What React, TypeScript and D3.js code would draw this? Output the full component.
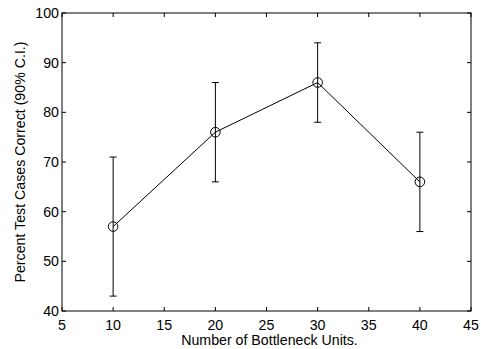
import React from "react";
import * as d3 from "d3";

const units = [10, 20, 30, 40];
const correct = [57, 76, 86, 66];
const lower = [43, 66, 78, 56];
const upper = [71, 86, 94, 76];
const xTicks = [5, 10, 15, 20, 25, 30, 35, 40, 45];
const yTicks = [40, 50, 60, 70, 80, 90, 100];

const App = () => {
  const width = 481;
  const height = 349;
  const left = 62;
  const right = 471;
  const top = 13;
  const bottom = 311;

  const x = d3.scaleLinear().domain([5, 45]).range([left, right]);
  const y = d3.scaleLinear().domain([40, 100]).range([bottom, top]);

  const line = d3
    .line<number>()
    .x((d, i) => x(units[i]))
    .y((d) => y(d));

  const font = "Liberation Sans, Arial, Helvetica, sans-serif";
  const tick = 4;

  return (
    <svg
      width={width}
      height={height}
      style={{ position: "absolute", left: 0, top: 0, background: "white" }}
      fontFamily={font}
      fontSize={14.2}
    >
      <rect x={0} y={0} width={width} height={height} fill="white" />
      {xTicks.map((t) => (
        <g key={"x" + t}>
          <line x1={x(t)} x2={x(t)} y1={bottom} y2={bottom - tick} stroke="black" />
          <line x1={x(t)} x2={x(t)} y1={top} y2={top + tick} stroke="black" />
          <text x={x(t)} y={bottom + 19} textAnchor="middle">
            {t}
          </text>
        </g>
      ))}
      {yTicks.map((t) => (
        <g key={"y" + t}>
          <line x1={left} x2={left + tick} y1={y(t)} y2={y(t)} stroke="black" />
          <line x1={right} x2={right - tick} y1={y(t)} y2={y(t)} stroke="black" />
          <text x={left - 3} y={y(t) + 5} textAnchor="end">
            {t}
          </text>
        </g>
      ))}
      <rect
        x={left}
        y={top}
        width={right - left}
        height={bottom - top}
        fill="none"
        stroke="black"
        strokeWidth={1}
      />
      {units.map((u, i) => (
        <g key={"e" + u}>
          <line x1={x(u)} x2={x(u)} y1={y(lower[i])} y2={y(upper[i])} stroke="black" />
          <line x1={x(u) - 3.5} x2={x(u) + 3.5} y1={y(lower[i])} y2={y(lower[i])} stroke="black" />
          <line x1={x(u) - 3.5} x2={x(u) + 3.5} y1={y(upper[i])} y2={y(upper[i])} stroke="black" />
        </g>
      ))}
      <path d={line(correct) || ""} fill="none" stroke="black" />
      {units.map((u, i) => (
        <circle key={"c" + u} cx={x(u)} cy={y(correct[i])} r={4.8} fill="none" stroke="black" />
      ))}
      <text x={(left + right) / 2 + 3} y={bottom + 34} textAnchor="middle">
        Number of Bottleneck Units.
      </text>
      <text
        transform={`translate(25,${(top + bottom) / 2}) rotate(-90)`}
        textAnchor="middle"
      >
        Percent Test Cases Correct (90% C.I.)
      </text>
    </svg>
  );
};

export default App;
